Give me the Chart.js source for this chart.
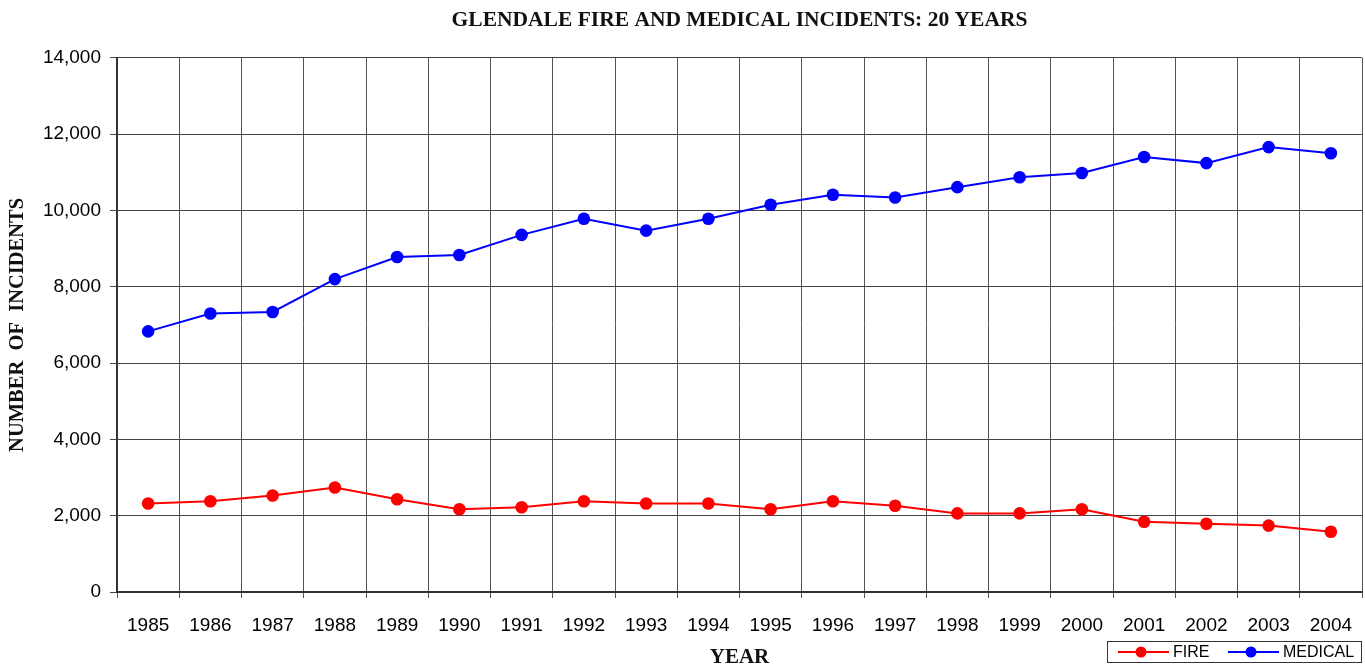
<!DOCTYPE html>
<html>
<head>
<meta charset="utf-8">
<script src="https://cdn.jsdelivr.net/npm/chart.js@4"></script>
<style>
html,body{margin:0;padding:0;background:#fff;}
#wrap{position:relative;width:1365px;height:667px;}
</style>
</head>
<body>
<div id="wrap"><canvas id="c" width="1365" height="667"></canvas></div>
<script>
const years = ['1985','1986','1987','1988','1989','1990','1991','1992','1993','1994','1995','1996','1997','1998','1999','2000','2001','2002','2003','2004'];
const fire = [2320,2380,2530,2740,2430,2170,2220,2380,2320,2320,2170,2380,2260,2060,2060,2170,1840,1790,1740,1580];
const medical = [6830,7300,7340,8200,8780,8830,9360,9780,9470,9780,10150,10410,10340,10610,10870,10980,11400,11240,11660,11500];
const yTicks = [0,2000,4000,6000,8000,10000,12000,14000];

const serif = '"Liberation Serif","Times New Roman",serif';
const sansFam = '"Liberation Sans",Arial,sans-serif';
const sans = {family:sansFam, size:19};

const legendPlugin = {
  id:'boxLegend',
  afterDraw(chart){
    const ctx = chart.ctx;
    const ca = chart.chartArea;
    const w = 254, h = 21;
    const x0 = ca.right - w - 1, y0 = 641;
    ctx.save();
    ctx.fillStyle = '#fff';
    ctx.fillRect(x0, y0, w, h);
    ctx.strokeStyle = '#333';
    ctx.lineWidth = 1;
    ctx.strokeRect(x0 + 0.5, y0 + 0.5, w, h);
    const cy = y0 + h/2 + 0.5;
    let x = x0 + 11;
    ctx.font = '16px ' + sansFam;
    ctx.textBaseline = 'middle';
    chart.data.datasets.forEach((ds) => {
      ctx.strokeStyle = ds.borderColor;
      ctx.lineWidth = 2;
      ctx.beginPath(); ctx.moveTo(x, cy); ctx.lineTo(x + 51, cy); ctx.stroke();
      ctx.fillStyle = ds.borderColor;
      ctx.beginPath(); ctx.arc(x + 23, cy, 5.5, 0, Math.PI*2); ctx.fill();
      ctx.fillStyle = '#000';
      ctx.fillText(ds.label, x + 55, cy + 1);
      x += 110;
    });
    ctx.restore();
  }
};

new Chart(document.getElementById('c'), {
  type:'line',
  data:{
    labels: years,
    datasets:[
      {label:'FIRE', data: fire, borderColor:'#ff0000', backgroundColor:'#ff0000', borderWidth:2, pointRadius:6.3, pointHoverRadius:6.3, pointBorderWidth:0, tension:0},
      {label:'MEDICAL', data: medical, borderColor:'#0000ff', backgroundColor:'#0000ff', borderWidth:2, pointRadius:6.3, pointHoverRadius:6.3, pointBorderWidth:0, tension:0}
    ]
  },
  options:{
    responsive:false,
    animation:false,
    layout:{autoPadding:false, padding:{left:0,right:3,top:0,bottom:0}},
    plugins:{
      legend:{display:false},
      tooltip:{enabled:false},
      title:{display:true, text:'GLENDALE FIRE AND MEDICAL INCIDENTS: 20 YEARS', color:'#111', font:{family:serif, size:21.5, weight:'bold'}, fullSize:false, padding:{top:8,bottom:24}}
    },
    scales:{
      x:{
        offset:true,
        grid:{offset:true, color:'#555', lineWidth:1, tickLength:6, drawTicks:true},
        border:{color:'#333', width:2},
        ticks:{color:'#000', font:sans, padding:16, maxRotation:0, autoSkip:false},
        title:{display:true, text:'YEAR', color:'#111', font:{family:serif, size:21, weight:'bold'}, padding:{top:4,bottom:-3}},
        afterFit(s){ s.height = 75; s.paddingLeft = 0; s.paddingRight = 0; }
      },
      y:{
        min:0, max:14000,
        afterBuildTicks(s){ s.ticks = yTicks.map(v => ({value:v})); },
        grid:{color:'#444', lineWidth:1, tickLength:7},
        border:{color:'#333', width:2},
        ticks:{color:'#000', font:sans, padding:9, callback:(v)=>v.toLocaleString('en-US')},
        title:{display:true, text:'NUMBER  OF  INCIDENTS', color:'#111', font:{family:serif, size:20.5, weight:'bold'}, padding:{top:5,bottom:0}},
        afterFit(s){ s.width = 117; }
      }
    }
  },
  plugins:[legendPlugin]
});
</script>
</body>
</html>
